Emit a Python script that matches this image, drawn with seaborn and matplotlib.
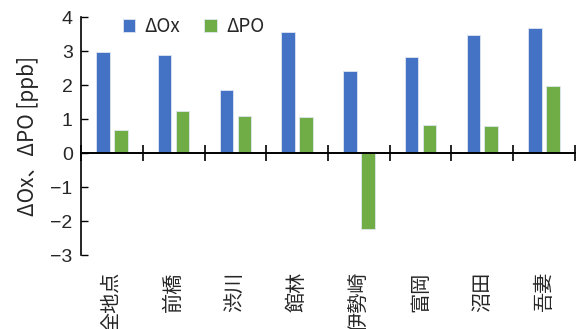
import numpy as np
import pandas as pd
import matplotlib
matplotlib.use("Agg")
import matplotlib.pyplot as plt
import seaborn as sns

sites = ["全地点", "前橋", "渋川", "館林", "伊勢崎", "富岡", "沼田", "吾妻"]
series_names = ["ΔOx", "ΔPO"]
d_ox = [2.96, 2.89, 1.86, 3.55, 2.40, 2.82, 3.46, 3.68]
d_po = [0.69, 1.24, 1.08, 1.07, -2.23, 0.81, 0.79, 1.98]
y_ticks = [-3, -2, -1, 0, 1, 2, 3, 4]
y_label = "ΔOx、ΔPO [ppb]"

colors = ["#4472C4", "#70AD47"]

df = pd.DataFrame({
    "site": sites * 2,
    "series": [series_names[0]] * len(sites) + [series_names[1]] * len(sites),
    "value": d_ox + d_po,
})

sns.set_theme(style="white")
fam = ["Liberation Sans", "Noto Sans CJK JP"]
cjk = ["Noto Sans CJK JP", "Liberation Sans"]
plt.rcParams["font.family"] = fam

fig = plt.figure(figsize=(5.77, 3.29), dpi=100)
ax = fig.add_axes([0.1404, 0.2249, 0.8561, 0.7234])

sns.barplot(data=df, x="site", y="value", hue="series", order=sites,
            hue_order=series_names, palette=colors, saturation=1,
            width=0.576, gap=0.24, edgecolor="#dfe6f2", linewidth=0.6,
            ax=ax, legend=True)

ax.set_xlim(-0.5, len(sites) - 0.5)
ax.set_ylim(-3, 4)
ax.set_yticks(y_ticks)
ax.set_yticklabels([f"{t}".replace("-", "\u2212") for t in y_ticks],
                   fontsize=14, family=fam)
ax.tick_params(axis="y", direction="in", length=5, width=1, color="black",
               pad=6, left=True)

# horizontal axis line at zero with category boundary ticks
for s in ["top", "right"]:
    ax.spines[s].set_visible(False)
ax.spines["left"].set_color("black")
ax.spines["left"].set_linewidth(1.2)
ax.spines["bottom"].set_position(("data", 0))
ax.spines["bottom"].set_color("black")
ax.spines["bottom"].set_linewidth(1.4)
ax.set_xticks(np.arange(-0.5, len(sites), 1.0))
ax.set_xticklabels([])
ax.tick_params(axis="x", direction="inout", length=11, width=1.2,
               color="black", bottom=True)

# category names along the lower edge
sec = ax.secondary_xaxis(0)
sec.spines["bottom"].set_visible(False)
sec.set_xticks(np.arange(len(sites)))
sec.set_xticklabels(sites, rotation=90, fontsize=14.5,
                    family=["Noto Sans CJK JP"])
sec.tick_params(axis="x", length=0, pad=12)

ax.set_xlabel("")
ax.set_ylabel(y_label, fontsize=15, family=cjk, labelpad=8)

handles, labels = ax.get_legend_handles_labels()
ax.legend(handles, labels, loc="upper left", bbox_to_anchor=(0.185, 1.0),
          bbox_transform=fig.transFigure, ncol=2, frameon=False,
          handlelength=0.65, handleheight=0.65,
          handletextpad=0.5, columnspacing=1.3, borderaxespad=0.45,
          prop={"family": cjk, "size": 13.5})

fig.savefig("out.png", dpi=100)
